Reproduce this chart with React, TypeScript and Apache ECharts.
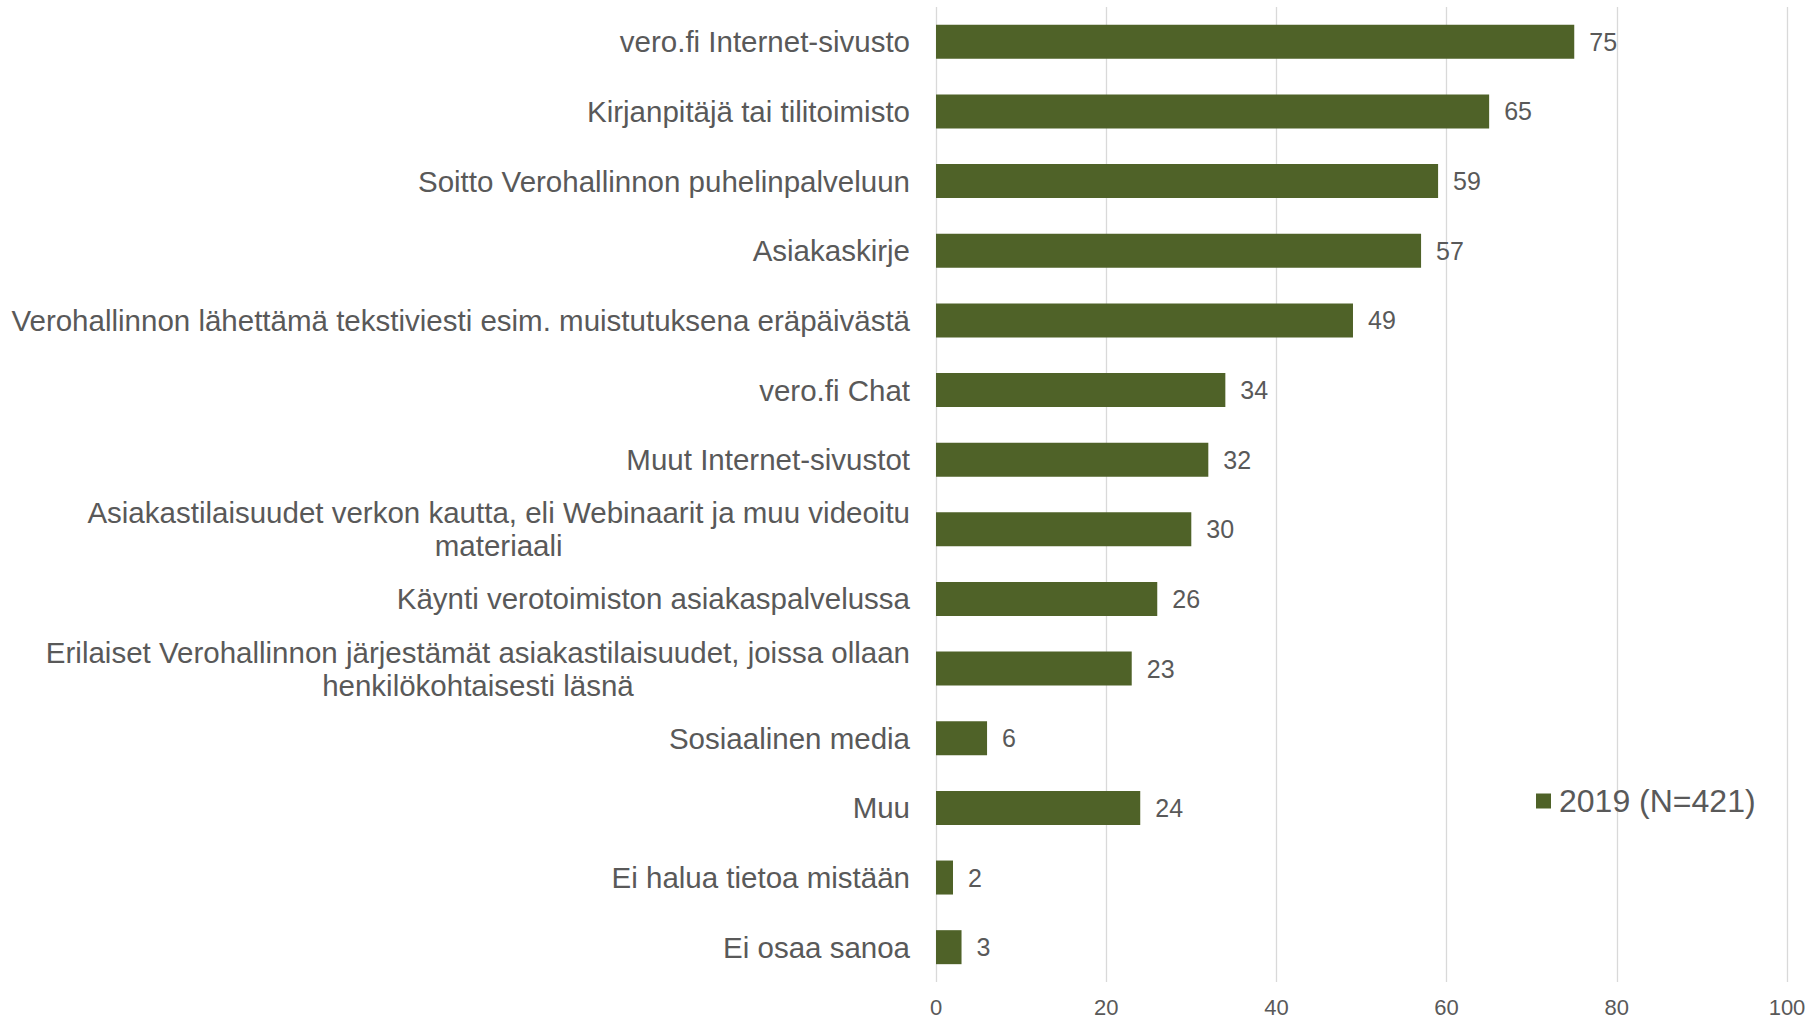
import React, { useEffect, useRef } from "react";
import * as echarts from "echarts";

const categories = [
  "vero.fi Internet-sivusto",
  "Kirjanpitäjä tai tilitoimisto",
  "Soitto Verohallinnon puhelinpalveluun",
  "Asiakaskirje",
  "Verohallinnon lähettämä tekstiviesti esim. muistutuksena eräpäivästä",
  "vero.fi Chat",
  "Muut Internet-sivustot",
  "Asiakastilaisuudet verkon kautta, eli Webinaarit ja muu videoitu\nmateriaali",
  "Käynti verotoimiston asiakaspalvelussa",
  "Erilaiset Verohallinnon järjestämät asiakastilaisuudet, joissa ollaan\nhenkilökohtaisesti läsnä",
  "Sosiaalinen media",
  "Muu",
  "Ei halua tietoa mistään",
  "Ei osaa sanoa",
];

const values2019 = [75, 65, 59, 57, 49, 34, 32, 30, 26, 23, 6, 24, 2, 3];
const seriesName = "2019 (N=421)";
const xTicks = { min: 0, max: 100, interval: 20 };

const FONT = "'Liberation Sans', Arial, sans-serif";
const TEXT = "#595959";
const BAR = "#4F6228";

export default function App() {
  const ref = useRef<HTMLDivElement>(null);
  useEffect(() => {
    document.body.style.margin = "0";
    const chart = echarts.init(ref.current!, null, { renderer: "svg" });
    chart.setOption({
      animation: false,
      backgroundColor: "#ffffff",
      textStyle: { fontFamily: FONT },
      grid: { left: 936, right: 25, top: 7, bottom: 36 },
      legend: {
        data: [seriesName],
        left: 1531,
        top: 780,
        itemWidth: 15,
        itemHeight: 15,
        itemGap: 8,
        icon: "rect",
        textStyle: { color: TEXT, fontSize: 32, fontFamily: FONT, padding: [0, 0, 0, 3] },
      },
      xAxis: {
        type: "value",
        min: xTicks.min,
        max: xTicks.max,
        interval: xTicks.interval,
        axisLine: { show: false },
        axisTick: { show: false },
        splitLine: { show: true, lineStyle: { color: "#d9d9d9", width: 1.3 } },
        axisLabel: { color: TEXT, fontSize: 22, margin: 14, fontFamily: FONT },
      },
      yAxis: {
        type: "category",
        data: categories,
        inverse: true,
        axisLine: { show: false },
        axisTick: { show: false },
        axisLabel: {
          color: TEXT,
          fontSize: 29.5,
          fontFamily: FONT,
          margin: 26,
          lineHeight: 33,
          formatter: (v: string) =>
            v
              .split("\n")
              .map((l) => `{c|${l}}`)
              .join("\n"),
          rich: {
            c: { align: "center", color: TEXT, fontSize: 29.5, fontFamily: FONT, lineHeight: 33 },
          },
        },
      },
      series: [
        {
          name: seriesName,
          type: "bar",
          data: values2019,
          barWidth: 34,
          itemStyle: { color: BAR },
          label: {
            show: true,
            position: "right",
            distance: 15,
            color: TEXT,
            fontSize: 25,
            fontFamily: FONT,
          },
        },
      ],
    });
    return () => chart.dispose();
  }, []);
  return <div ref={ref} style={{ width: 1812, height: 1018 }} />;
}
